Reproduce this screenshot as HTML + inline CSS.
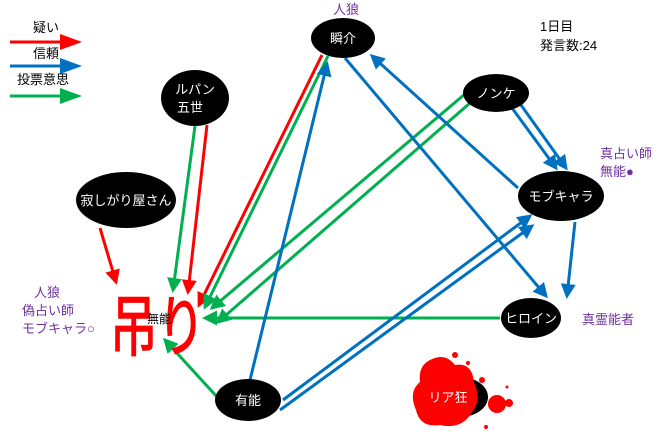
<!DOCTYPE html>
<html><head><meta charset="utf-8"><style>
html,body{margin:0;padding:0;background:#fff;}
svg{display:block;font-family:"Liberation Sans","Noto Sans CJK JP",sans-serif;}
</style></head><body>
<svg width="660" height="435" viewBox="0 0 660 435">
<defs>
<marker id="r" markerWidth="5" markerHeight="5" refX="4" refY="2.5" orient="auto" markerUnits="strokeWidth"><path d="M0,0 L5,2.5 L0,5z" fill="#f00"/></marker>
<marker id="b" markerWidth="5" markerHeight="5" refX="4" refY="2.5" orient="auto" markerUnits="strokeWidth"><path d="M0,0 L5,2.5 L0,5z" fill="#0070c0"/></marker>
<marker id="g" markerWidth="5" markerHeight="5" refX="4" refY="2.5" orient="auto" markerUnits="strokeWidth"><path d="M0,0 L5,2.5 L0,5z" fill="#00b050"/></marker>
</defs>
<g stroke-width="3">
<line x1="10" y1="42" x2="62" y2="42" stroke="#f00"/>
<line x1="10" y1="66" x2="62" y2="66" stroke="#0070c0"/>
<line x1="10" y1="96" x2="62" y2="96" stroke="#00b050"/>
</g>
<path d="M60,34 L82,42 L60,50z" fill="#f00"/>
<path d="M60,58 L82,66 L60,74z" fill="#0070c0"/>
<path d="M60,88 L82,96 L60,104z" fill="#00b050"/>
<g font-size="13" fill="#000">
<text x="33" y="32">疑い</text><text x="33" y="58">信頼</text><text x="17" y="84">投票意思</text>
<text x="540" y="31">1日目</text><text x="540" y="50">発言数:24</text>
</g>
<g stroke-width="3" fill="none">
<line x1="100" y1="228" x2="116" y2="282" stroke="#f00" marker-end="url(#r)"/>
<line x1="207" y1="125" x2="188" y2="292" stroke="#f00" marker-end="url(#r)"/>
<line x1="195" y1="126" x2="173" y2="290" stroke="#00b050" marker-end="url(#g)"/>
<line x1="322" y1="55" x2="199" y2="305" stroke="#f00" marker-end="url(#r)"/>
<line x1="328" y1="56" x2="205" y2="307" stroke="#00b050" marker-end="url(#g)"/>
<line x1="465" y1="94" x2="212" y2="308" stroke="#00b050" marker-end="url(#g)"/>
<line x1="470" y1="103" x2="218" y2="322" stroke="#00b050" marker-end="url(#g)"/>
<line x1="500" y1="318" x2="205" y2="318" stroke="#00b050" marker-end="url(#g)"/>
<line x1="218" y1="398" x2="165" y2="340" stroke="#00b050" marker-end="url(#g)"/>
<line x1="250" y1="380" x2="327" y2="64" stroke="#0070c0" marker-end="url(#b)"/>
<line x1="345" y1="58" x2="546" y2="296" stroke="#0070c0" marker-end="url(#b)"/>
<line x1="518" y1="188" x2="372" y2="56" stroke="#0070c0" marker-end="url(#b)"/>
<line x1="512" y1="108" x2="556" y2="168" stroke="#0070c0" marker-end="url(#b)"/>
<line x1="521" y1="105" x2="566" y2="168" stroke="#0070c0" marker-end="url(#b)"/>
<line x1="575" y1="222" x2="567" y2="296" stroke="#0070c0" marker-end="url(#b)"/>
<line x1="280" y1="410" x2="532" y2="226" stroke="#0070c0" marker-end="url(#b)"/>
<line x1="283" y1="400" x2="530" y2="216" stroke="#0070c0" marker-end="url(#b)"/>
</g>
<g fill="#000">
<ellipse cx="343" cy="38" rx="32" ry="20"/>
<ellipse cx="195" cy="98" rx="34" ry="28"/>
<ellipse cx="126" cy="200" rx="50" ry="28"/>
<ellipse cx="496" cy="93" rx="33" ry="19"/>
<ellipse cx="561" cy="196" rx="43" ry="25"/>
<ellipse cx="531" cy="318" rx="30" ry="20"/>
<ellipse cx="248" cy="400" rx="33" ry="21"/>
<ellipse cx="460" cy="397" rx="28" ry="20"/>
</g>
<g fill="#f00">
<path d="M430,360 Q445,352 455,365 Q472,362 474,382 Q482,400 472,412 Q462,430 440,425 Q420,428 416,410 Q408,392 420,382 Q418,366 430,360 Z"/>
<circle cx="497" cy="404" r="9"/>
<circle cx="455" cy="355" r="3"/><circle cx="468" cy="363" r="2"/><circle cx="482" cy="380" r="3"/>
<circle cx="509" cy="403" r="4"/><circle cx="486" cy="427" r="2"/><circle cx="507" cy="387" r="1.5"/>
</g>
<g fill="#fff" font-size="13" text-anchor="middle">
<text x="343" y="43">瞬介</text>
<text x="195" y="94">ルパン</text><text x="190" y="112">五世</text>
<text x="126" y="205">寂しがり屋さん</text>
<text x="496" y="98">ノンケ</text>
<text x="561" y="201">モブキャラ</text>
<text x="531" y="323">ヒロイン</text>
<text x="248" y="405">有能</text>
<text x="448" y="402">リア狂</text>
</g>
<text x="110" y="350" font-size="66" fill="#f00" stroke="#f00" stroke-width="1.5" transform="translate(110,0) scale(0.72,1) translate(-110,0)">吊り</text>
<text x="147" y="323" font-size="12" fill="#000">無能</text>
<g fill="#7030a0" font-size="13">
<text x="333" y="14">人狼</text>
<text x="600" y="158">真占い師</text><text x="600" y="176">無能●</text>
<text x="582" y="324">真霊能者</text>
<text x="34" y="297">人狼</text><text x="22" y="315">偽占い師</text><text x="22" y="333">モブキャラ○</text>
</g>
</svg>
</body></html>
